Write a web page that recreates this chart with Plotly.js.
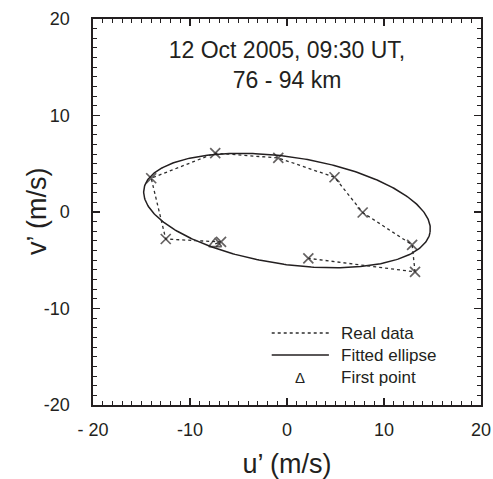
<!DOCTYPE html>
<html>
<head>
<meta charset="utf-8">
<script src="https://cdn.plot.ly/plotly-3.0.1.min.js"></script>
<style>
  html, body { margin: 0; padding: 0; background: #fff; }
  #chart { width: 493px; height: 479px; }
</style>
</head>
<body>
<div id="chart"></div>
<script>
// Wind perturbation hodograph, 12 Oct 2005, 09:30 UT, 76 - 94 km
const uWind = [-7.4, -6.8, -12.5, -14.0, -7.4, -0.9, 4.9, 7.8, 12.9, 13.2, 2.2];
const vWind = [-3.3, -3.1, -2.8, 3.5, 6.1, 5.6, 3.6, -0.05, -3.4, -6.2, -4.8];

// Fitted ellipse parameters (m/s, degrees)
const ellipseCenterU = 0.0;
const ellipseCenterV = 0.15;
const ellipseSemiMajor = 14.92;
const ellipseSemiMinor = 5.56;
const ellipseTiltDeg = -8.59;

const tickVals = [-20, -10, 0, 10, 20];
const xTickText = ['- 20', '-10', '0', '10', '20'];
const yTickText = ['-20', '-10', '0', '10', '20'];

const legendLabels = ['Real data', 'Fitted ellipse', 'First point'];

// Trace the ellipse outline from its parameters
const th = ellipseTiltDeg * Math.PI / 180;
const ellU = [], ellV = [];
for (let i = 0; i <= 360; i++) {
  const t = i * Math.PI / 180;
  const ca = ellipseSemiMajor * Math.cos(t), sb = ellipseSemiMinor * Math.sin(t);
  ellU.push(ellipseCenterU + ca * Math.cos(th) - sb * Math.sin(th));
  ellV.push(ellipseCenterV + ca * Math.sin(th) + sb * Math.cos(th));
}

const ink = '#231f20';
const FAMILY = 'Liberation Sans, Arial, sans-serif';
const symbols = uWind.map((_, i) => i === 0 ? 'triangle-up-open' : 'x-thin-open');
const sizes = uWind.map((_, i) => i === 0 ? 11 : 10);

const traces = [
  {
    x: ellU, y: ellV, type: 'scatter', mode: 'lines', name: legendLabels[1],
    line: { color: ink, width: 1.5 }, hoverinfo: 'skip'
  },
  {
    x: uWind, y: vWind, type: 'scatter', mode: 'lines+markers', name: legendLabels[0],
    line: { color: '#2e2e2e', width: 1.3, dash: '3px,3px' },
    marker: { symbol: symbols, size: sizes, color: ink, line: { color: ink, width: 1.7 } }
  }
];

const axisCommon = {
  range: [-20, 20],
  tickvals: tickVals,
  ticks: 'inside',
  ticklen: 7,
  tickwidth: 1.2,
  tickcolor: ink,
  showline: true,
  linecolor: ink,
  linewidth: 1.6,
  mirror: 'ticks',
  showgrid: false,
  zeroline: false,
  tickfont: { family: FAMILY, size: 18, color: ink },
  minor: { dtick: 1, ticks: 'inside', ticklen: 4, tickwidth: 1, tickcolor: ink, showgrid: false }
};

// Legend drawn in the lower right of the plot area
const legX0 = 0.4606, legX1 = 0.608, legTextX = 0.633;
const legRows = [0.1865, 0.1295, 0.07];
const font17 = { family: FAMILY, size: 17, color: ink };

const layout = {
  width: 493, height: 479,
  margin: { l: 93, r: 12, t: 19, b: 74 },
  paper_bgcolor: '#fff', plot_bgcolor: '#fff',
  showlegend: false,
  title: {
    text: '12 Oct 2005, 09:30 UT,<br>76 - 94 km',
    font: { family: FAMILY, size: 23, color: ink },
    x: 287 / 493, xanchor: 'center',
    xref: 'container',
    yref: 'container', y: 1 - 58 / 479, yanchor: 'top'
  },
  xaxis: Object.assign({}, axisCommon, {
    ticktext: xTickText,
    ticklabelstandoff: 8,
    title: { text: 'u’ (m/s)', font: { family: FAMILY, size: 27, color: ink }, standoff: 18 }
  }),
  yaxis: Object.assign({}, axisCommon, {
    ticktext: yTickText,
    ticklabelstandoff: 18
  }),
  shapes: [
    { type: 'line', xref: 'paper', yref: 'paper', x0: legX0, x1: legX1, y0: legRows[0], y1: legRows[0],
      line: { color: '#2e2e2e', width: 1.3, dash: '3px,3px' } },
    { type: 'line', xref: 'paper', yref: 'paper', x0: legX0, x1: legX1, y0: legRows[1], y1: legRows[1],
      line: { color: ink, width: 1.5 } }
  ],
  annotations: [
    // vertical axis title
    { xref: 'paper', yref: 'paper', x: (37 - 93) / 388, y: 0.5, xanchor: 'center', yanchor: 'middle',
      text: 'v’ (m/s)', textangle: -90, showarrow: false, font: { family: FAMILY, size: 27, color: ink } },
    { xref: 'paper', yref: 'paper', x: legTextX, y: legRows[0], xanchor: 'left', yanchor: 'middle',
      text: legendLabels[0], showarrow: false, font: font17 },
    { xref: 'paper', yref: 'paper', x: legTextX, y: legRows[1], xanchor: 'left', yanchor: 'middle',
      text: legendLabels[1], showarrow: false, font: font17 },
    { xref: 'paper', yref: 'paper', x: legTextX, y: legRows[2], xanchor: 'left', yanchor: 'middle',
      text: legendLabels[2], showarrow: false, font: font17 },
    { xref: 'paper', yref: 'paper', x: (legX0 + legX1) / 2, y: legRows[2], xanchor: 'center', yanchor: 'middle',
      text: 'Δ', showarrow: false, font: { family: FAMILY, size: 15, color: ink } }
  ]
};

Plotly.newPlot('chart', traces, layout, { displayModeBar: false, staticPlot: true });
</script>
</body>
</html>
